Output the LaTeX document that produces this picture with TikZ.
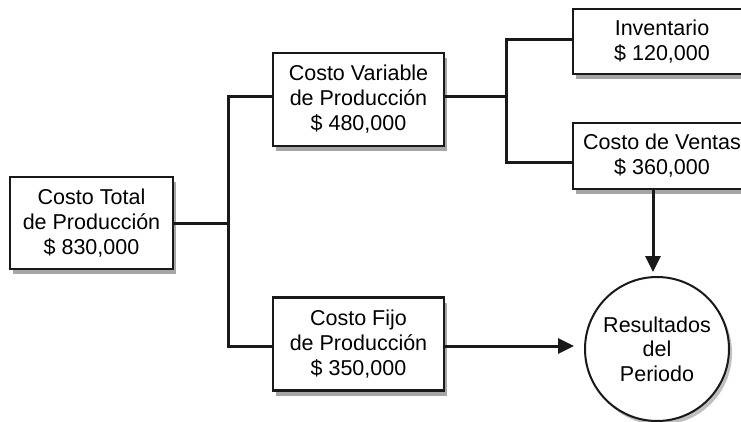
\documentclass[tikz,border=0pt]{standalone}
\usepackage{fontspec}
\setmainfont{Liberation Sans}
\usetikzlibrary{shadows,arrows.meta}
\begin{document}
\begin{tikzpicture}[x=1pt,y=-1pt,
  box/.style={draw=black!90,line width=2.6pt,fill=white,inner sep=0pt,align=center,
    font=\fontsize{21.5}{25}\selectfont,
    drop shadow={shadow xshift=3pt,shadow yshift=-5pt,fill=black,opacity=.35}},
  res/.style={circle,draw=black!90,line width=2pt,fill=white,inner sep=0pt,align=center,
    font=\fontsize{21.5}{24.5}\selectfont,minimum size=144pt,
    drop shadow={shadow xshift=3pt,shadow yshift=-4pt,fill=black,opacity=.25}},
  conn/.style={line width=3pt,draw=black!90},
  arr/.style={conn,-{Triangle[length=16pt,width=15pt]}}]
\useasboundingbox (0,0) rectangle (741,422);
\clip (0,0) rectangle (741,422);
\fill[white] (0,0) rectangle (741,422);
% nodes
\node[box,minimum width=163pt,minimum height=92pt] (total) at (91.5,223) {Costo Total\\de Producción\\\$ 830,000};
\node[box,minimum width=171pt,minimum height=93pt] (var) at (358.5,99.5) {Costo Variable\\de Producción\\\$ 480,000};
\node[box,minimum width=171pt,minimum height=93pt] (fijo) at (358.5,344) {Costo Fijo\\de Producción\\\$ 350,000};
\node[box,minimum width=178pt,minimum height=65pt] (inv) at (662,41.5) {Inventario\\\$ 120,000};
\node[box,minimum width=178pt,minimum height=66pt] (ventas) at (662,156) {Costo de Ventas\\\$ 360,000};
\node[res] (res) at (657,349) {Resultados\\del\\Periodo};
% junctions
\coordinate (j1) at (228.5,222);
\coordinate (j2) at (506,97);
\coordinate (vw) at ([yshift=2.5pt]var.west);
\coordinate (ve) at ([yshift=2.5pt]var.east);
\coordinate (fw) at ([yshift=-2pt]fijo.west);
\coordinate (fe) at ([yshift=-2pt]fijo.east);
\coordinate (iw) at ([yshift=2pt]inv.west);
\coordinate (sw) at ([yshift=-7pt]ventas.west);
\coordinate (rn) at ([xshift=-4pt]res.north);
% connectors
\draw[conn] (total.east) -- (total.east -| j1);
\draw[conn] (vw) -| (j1) |- (fw);
\draw[conn] (ve) -- (j2);
\draw[conn] (iw) -| (j2) |- (sw);
\draw[arr,shorten >=10pt] (fe) -- (fe -| res.west);
\draw[arr,shorten >=4pt] (rn |- ventas.south) -- (rn);
\end{tikzpicture}
\end{document}
